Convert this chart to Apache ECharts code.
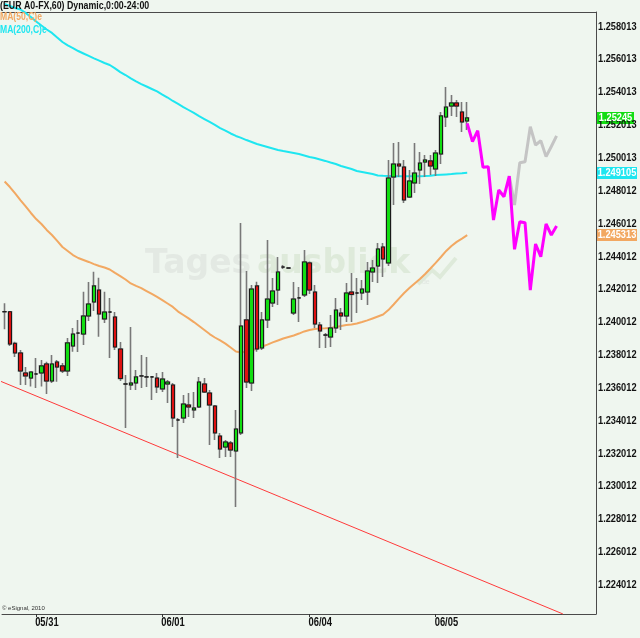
<!DOCTYPE html>
<html><head><meta charset="utf-8">
<script src="https://cdn.jsdelivr.net/npm/echarts@6/dist/echarts.min.js"></script>
<style>html,body{margin:0;padding:0;background:#eff6ef;}#c{width:640px;height:638px;}</style>
</head><body><div id="c"></div>
<script>
// ---- data ----
const dateTickLabels = ['05/31', '06/01', '06/04', '06/05'];
const dateTickIndex = [6, 30, 58, 82];
const slotCount = 113; // hourly slots incl. projection room

const openP = [1.24065,1.24065,1.23872,1.23814,1.23692,1.23661,1.23686,1.23692,1.23747,1.23643,
1.23759,1.23735,1.23704,1.23856,1.23935,1.23929,1.24039,1.24124,1.24197,1.24021,
1.24063,1.24033,1.23838,1.23625,1.23619,1.23631,1.23674,1.23668,1.23668,1.23661,
1.23595,1.23625,1.23619,1.23406,1.23418,1.23497,1.23467,1.23485,1.23625,1.23570,
1.23491,1.23308,1.23241,1.23266,1.23217,1.23327,1.24015,1.23631,1.24222,1.23844,
1.24015,1.24118,1.24197,1.24337,1.24331,1.24057,1.24149,1.24167,1.24362,1.24185,
1.23984,1.23923,1.23911,1.23966,1.24057,1.24039,1.24185,1.24179,1.24179,1.24185,
1.24307,1.24343,1.24459,1.24362,1.24885,1.24964,1.24946,1.24763,1.24849,1.24928,
1.24976,1.24983,1.24934,1.25025,1.25250,1.25317,1.25336,1.25281,1.25226];
const closeP = [1.24065,1.23868,1.23814,1.23704,1.23674,1.23698,1.23686,1.23735,1.23643,1.23747,
1.23728,1.23704,1.23875,1.23929,1.23935,1.24039,1.24112,1.24222,1.24051,1.24063,
1.24063,1.23850,1.23658,1.23625,1.23631,1.23668,1.23674,1.23668,1.23668,1.23607,
1.23655,1.23637,1.23418,1.23406,1.23503,1.23485,1.23479,1.23637,1.23576,1.23497,
1.23327,1.23229,1.23272,1.23223,1.23351,1.23978,1.23637,1.24203,1.23838,1.24015,
1.24142,1.24191,1.24307,1.24337,1.24331,1.24142,1.24149,1.24368,1.24197,1.23990,
1.23948,1.23923,1.23966,1.24075,1.24039,1.24179,1.24170,1.24179,1.24203,1.24313,
1.24331,1.24447,1.24386,1.24879,1.24964,1.24952,1.24745,1.24861,1.24909,1.24970,
1.24989,1.24952,1.25031,1.25257,1.25311,1.25336,1.25317,1.25220,1.25245];
const lowP = [1.23958,1.23856,1.23789,1.23619,1.23619,1.23609,1.23601,1.23609,1.23564,1.23631,
1.23639,1.23692,1.23674,1.23822,1.23820,1.23862,1.24009,1.24069,1.23913,1.23996,
1.23783,1.23832,1.23643,1.23357,1.23588,1.23588,1.23601,1.23607,1.23528,1.23570,
1.23576,1.23509,1.23363,1.23174,1.23388,1.23424,1.23418,1.23479,1.23570,1.23254,
1.23284,1.23174,1.23181,1.23181,1.22876,1.23314,1.23601,1.23582,1.23822,1.23832,
1.23966,1.24094,1.24106,1.24325,1.24328,1.24045,1.24002,1.24155,1.24173,1.23966,
1.23844,1.23844,1.23850,1.23935,1.23954,1.24002,1.24002,1.24057,1.24136,1.24106,
1.24246,1.24240,1.24276,1.24343,1.24715,1.24885,1.24727,1.24757,1.24788,1.24843,
1.24885,1.24897,1.24891,1.24964,1.25190,1.25257,1.25250,1.25159,1.25171];
const highP = [1.24116,1.24069,1.23882,1.23832,1.23728,1.23700,1.23783,1.23771,1.23761,1.23802,
1.23771,1.23753,1.23905,1.23966,1.24015,1.24187,1.24246,1.24309,1.24272,1.24187,
1.24149,1.24063,1.23881,1.23680,1.23972,1.23710,1.23802,1.23789,1.23674,1.23692,
1.23698,1.23649,1.23631,1.23418,1.23558,1.23570,1.23576,1.23668,1.23661,1.23588,
1.23497,1.23327,1.23284,1.23278,1.23467,1.24605,1.24313,1.24228,1.24248,1.24063,
1.24502,1.24270,1.24398,1.24349,1.24334,1.24246,1.24215,1.24441,1.24370,1.24228,
1.24002,1.23935,1.24045,1.24149,1.24088,1.24240,1.24301,1.24270,1.24258,1.24368,
1.24380,1.24483,1.24483,1.24989,1.25092,1.25098,1.24989,1.24928,1.25092,1.25037,
1.25019,1.25019,1.25050,1.25281,1.25433,1.25384,1.25354,1.25342,1.25342];

const ma50 = [1.24858,1.24824,1.24785,1.24745,1.24706,1.24666,1.24629,1.24599,1.24563,1.24532,
1.24496,1.24459,1.24435,1.24410,1.24392,1.24380,1.24368,1.24355,1.24343,1.24334,
1.24322,1.24301,1.24282,1.24261,1.24237,1.24222,1.24209,1.24191,1.24173,1.24155,
1.24136,1.24115,1.24094,1.24066,1.24045,1.24024,1.24002,1.23978,1.23954,1.23929,
1.23908,1.23890,1.23871,1.23847,1.23823,1.23817,1.23823,1.23829,1.23841,1.23853,
1.23865,1.23878,1.23890,1.23902,1.23911,1.23920,1.23932,1.23945,1.23954,1.23960,
1.23963,1.23964,1.23966,1.23972,1.23978,1.23984,1.23987,1.23993,1.24002,1.24012,
1.24024,1.24036,1.24048,1.24075,1.24109,1.24145,1.24179,1.24209,1.24237,1.24264,
1.24295,1.24328,1.24362,1.24398,1.24435,1.24465,1.24490,1.24510,1.245313];
const ma200 = [1.25938,1.25926,1.25914,1.25905,1.25884,1.25859,1.25832,1.25807,1.25783,1.25762,
1.25734,1.25707,1.25686,1.25670,1.25652,1.25637,1.25622,1.25607,1.25594,1.25579,
1.25567,1.25546,1.25524,1.25506,1.25485,1.25467,1.25451,1.25436,1.25421,1.25406,
1.25387,1.25369,1.25348,1.25330,1.25311,1.25293,1.25275,1.25256,1.25238,1.25220,
1.25202,1.25183,1.25168,1.25150,1.25135,1.25123,1.25110,1.25098,1.25086,1.25077,
1.25068,1.25059,1.25050,1.25043,1.25037,1.25031,1.25025,1.25016,1.25007,1.25001,
1.24992,1.24983,1.24973,1.24964,1.24952,1.24943,1.24934,1.24922,1.24916,1.24910,
1.24903,1.24894,1.24892,1.24891,1.24890,1.24890,1.24889,1.24889,1.24890,1.24890,
1.24891,1.24893,1.24897,1.24899,1.24901,1.24903,1.24906,1.24908,1.249105];

const projAStart = 88;
const projA = [1.25212,1.25100,1.25167,1.24944,1.24948,1.24623,1.24806,1.24765,1.24891,
1.24445,1.24613,1.24607,1.24197,1.24477,1.24400,1.24599,1.24532,1.24587];
const projBStart = 96;
const projB = [1.24891,1.24715,1.24972,1.24978,1.25191,1.25080,1.25106,1.25009,1.25071,1.25135];

const trendX = [-0.88, 106.2];
const trendY = [1.23643, 1.22225];

const yTickLabels = ['1.258013','1.256013','1.254013','1.252013','1.250013','1.248012','1.246012',
'1.244012','1.242012','1.240012','1.238012','1.236012','1.234012','1.232012','1.230012',
'1.228012','1.226012','1.224012'];
const yMin = 1.222247, yMax = 1.258896;

// ---- build ----
const FONT = "'Liberation Sans','Arial',sans-serif";
const categories = Array.from({length: slotCount}, (_, i) => 'h' + i);
const full = openP.map((o, i) => [o, closeP[i], lowP[i], highP[i]]);
const bodies = openP.map((o, i) => [o, closeP[i], Math.min(o, closeP[i]), Math.max(o, closeP[i])]);
const pad = (start, arr) => Array.from({length: slotCount}, (_, i) => (i >= start && i < start + arr.length) ? arr[i - start] : null);
const yTickValues = yTickLabels.map(parseFloat);

const chart = echarts.init(document.getElementById('c'));
chart.setOption({
  animation: false,
  backgroundColor: '#eff6ef',
  grid: {left: 2, right: 44, top: 12, bottom: 24, containLabel: false, outerBoundsMode: 'none'},
  xAxis: [{
    type: 'category', data: categories, boundaryGap: true, position: 'bottom',
    axisLine: {show: true, onZero: false, lineStyle: {color: '#4a4a4a', width: 1}},
    axisTick: {show: true, alignWithLabel: true, length: 3, interval: (i) => dateTickIndex.includes(i), lineStyle: {color: '#333'}},
    axisLabel: {show: false},
    splitLine: {show: false}
  }, {
    type: 'value', min: -0.5, max: slotCount - 0.5, position: 'top',
    axisLine: {show: true, onZero: false, lineStyle: {color: '#4a4a4a', width: 1}},
    axisTick: {show: false}, axisLabel: {show: false}, splitLine: {show: false}
  }],
  yAxis: {
    type: 'value', position: 'right', min: yMin, max: yMax, scale: true,
    axisLine: {show: true, onZero: false, lineStyle: {color: '#4a4a4a', width: 1}},
    axisTick: {show: false}, splitLine: {show: false}, axisLabel: {show: false}
  },
  series: [
    {type: 'line', xAxisIndex: 1, data: trendX.map((x, i) => [x, trendY[i]]), showSymbol: false, clip: false, silent: true, z: 1,
      lineStyle: {color: '#ff3a3a', width: 1}},
    {type: 'line', data: ma50, showSymbol: false, silent: true, z: 2, lineStyle: {color: '#f2a862', width: 2}},
    {type: 'line', data: ma200, showSymbol: false, silent: true, clip: false, z: 2, lineStyle: {color: '#1ee6f0', width: 2}},
    {type: 'candlestick', data: full, barWidth: 4, silent: true, z: 3,
      itemStyle: {color: '#12dd12', color0: '#dd1111', borderColor: '#787878', borderColor0: '#787878', borderColorDoji: '#787878', borderWidth: 1.6}},
    {type: 'candlestick', data: bodies, barWidth: 4, silent: true, z: 4,
      itemStyle: {color: '#12dd12', color0: '#dd1111', borderColor: '#1a1a1a', borderColor0: '#1a1a1a', borderColorDoji: '#1a1a1a', borderWidth: 1}},
    {type: 'line', data: pad(projBStart, projB), showSymbol: false, silent: true, z: 5, lineStyle: {color: '#c4c4c4', width: 3}},
    {type: 'line', data: pad(projAStart, projA), showSymbol: false, silent: true, z: 6, lineStyle: {color: '#ff00ff', width: 3}}
  ]
});

// ---- overlays (narrow text via horizontal scale) ----
const txt = (x, y, s, fill, size, sx, extra) => Object.assign({
  type: 'text', x: x, y: y, scaleX: sx, silent: true, z: 50,
  style: Object.assign({text: s, fill: fill, font: 'bold ' + size + 'px ' + FONT, verticalAlign: 'middle'}, extra || {})
});
const g = [];
// watermark
g.push({type: 'text', x: 145, y: 248, silent: true, style: {text: 'Tages', fill: '#e3e9e3', font: 'bold 33px "DejaVu Sans"'}});
g.push({type: 'text', x: 257, y: 248, silent: true, style: {text: 'ausblick', fill: '#deeada', font: 'bold 33px "DejaVu Sans"'}});
g.push({type: 'polyline', silent: true, shape: {points: [[418, 284], [432, 270], [440, 277], [456, 258]]}, style: {stroke: '#deeada', lineWidth: 4, fill: null}});
g.push({type: 'text', x: 420, y: 279, silent: true, style: {text: '.de', fill: '#e0e6e0', font: '7px sans-serif'}});
// title & legend
g.push(txt(0, 6, '(EUR A0-FX,60) Dynamic,0:00-24:00', '#111', 11, 0.8));
g.push(txt(0, 17, 'MA(50,C)e', '#f2a862', 11, 0.78));
g.push(txt(0, 30, 'MA(200,C)e', '#1ee6f0', 11, 0.78));
g.push({type: 'text', x: 2, y: 605, silent: true, style: {text: '\u00a9 eSignal, 2010', fill: '#333', font: '6px sans-serif'}});
// y tick labels
yTickValues.forEach((v, k) => {
  const py = chart.convertToPixel({yAxisIndex: 0}, v);
  g.push(txt(598, py, yTickLabels[k], '#111', 11, 0.84));
});
// x date labels
dateTickIndex.forEach((idx, k) => {
  const px = chart.convertToPixel({xAxisIndex: 0}, categories[idx]);
  g.push(txt(px - 1, 623, dateTickLabels[k], '#111', 12, 0.78));
});
// last-value tags
const tag = (val, label, bg, w) => {
  const y = Math.round(chart.convertToPixel({yAxisIndex: 0}, val));
  g.push({type: 'rect', z: 49, silent: true, shape: {x: 597, y: y - 6, width: w, height: 12}, style: {fill: bg}});
  g.push(txt(597 + w / 2, y, label, '#ffffff', 11, 0.84, {align: 'center'}));
};
tag(closeP[closeP.length - 1], '1.25245', '#12dd12', 37);
tag(ma200[ma200.length - 1], '1.249105', '#1ee6f0', 40);
tag(ma50[ma50.length - 1], '1.245313', '#f2a862', 40);
chart.setOption({graphic: g});
</script></body></html>
